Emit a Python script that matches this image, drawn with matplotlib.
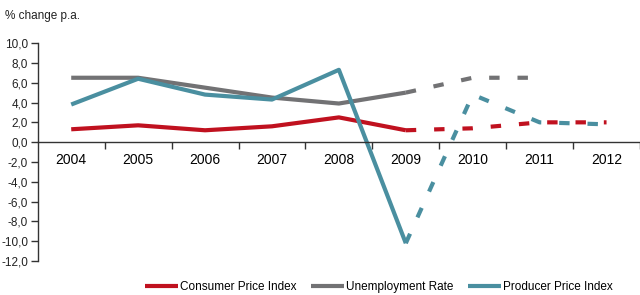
import matplotlib
matplotlib.use("Agg")
import matplotlib.pyplot as plt
from matplotlib.ticker import FuncFormatter

plt.rcParams["font.family"] = ["Liberation Sans Narrow", "Liberation Sans", "DejaVu Sans"]

years = ["2004", "2005", "2006", "2007", "2008", "2009", "2010", "2011", "2012"]

# actual values 2004-2009, forecasts from 2009 on (dashed)
cpi_actual = [1.3, 1.7, 1.2, 1.6, 2.5, 1.2]
cpi_forecast = [1.2, 1.4, 2.0, 2.0]
unemp_actual = [6.5, 6.5, 5.5, 4.5, 3.9, 5.0]
unemp_forecast = [5.0, 6.5, 6.5]
ppi_actual = [3.8, 6.4, 4.8, 4.3, 7.3, -10.2]
ppi_forecast = [-10.2, 4.8, 2.0, 1.8]

RED = "#c0111f"
GRAY = "#727274"
TEAL = "#4a8fa0"

fig = plt.figure(figsize=(6.4, 2.95), dpi=100)
ax = fig.add_axes([0.059, 0.115, 0.941, 0.739])

x = list(range(len(years)))
dash = (2.5, 4.3)
lw = 3.0

series = [
    (cpi_actual, cpi_forecast, RED, "Consumer Price Index"),
    (unemp_actual, unemp_forecast, GRAY, "Unemployment Rate"),
    (ppi_actual, ppi_forecast, TEAL, "Producer Price Index"),
]
for actual, forecast, color, label in series:
    ax.plot(x[:len(actual)], actual, color=color, lw=lw, label=label,
            solid_capstyle="butt", solid_joinstyle="round")
    start = len(actual) - 1
    ax.plot(x[start:start + len(forecast)], forecast, color=color, lw=lw,
            dashes=dash, dash_capstyle="butt")

ax.set_ylim(-12, 10)
ax.set_xlim(-0.5, 8.35)
ax.set_yticks(range(-12, 11, 2))
ax.yaxis.set_major_formatter(FuncFormatter(lambda v, p: f"{v:.1f}".replace(".", ",")))

# category boundary ticks, labels centred on categories
ax.set_xticks([i + 0.5 for i in x])
ax.set_xticklabels([])
ax.set_xticks(x, minor=True)
ax.set_xticklabels(years, minor=True)
ax.tick_params(axis="x", which="minor", length=0, pad=8)
ax.tick_params(axis="x", which="major", length=5, width=1, color="#333333")
ax.tick_params(axis="y", length=5, width=1, color="#333333", pad=2)
ax.tick_params(labelsize=8.5, labelcolor="#222222")

ax.spines["top"].set_visible(False)
ax.spines["right"].set_visible(False)
ax.spines["bottom"].set_position(("data", 0))
for s in ("left", "bottom"):
    ax.spines[s].set_color("#333333")
    ax.spines[s].set_linewidth(1)

fig.text(0.008, 0.945, "% change p.a.", fontsize=8.5, color="#222222", va="center")

handles, labels = ax.get_legend_handles_labels()
fig.legend(handles, labels, loc="center", bbox_to_anchor=(0.592, 0.027), ncol=3,
           frameon=False, fontsize=8.5, handlelength=2.8, handletextpad=0.2,
           columnspacing=1.2)

fig.savefig("out.png", dpi=100)
